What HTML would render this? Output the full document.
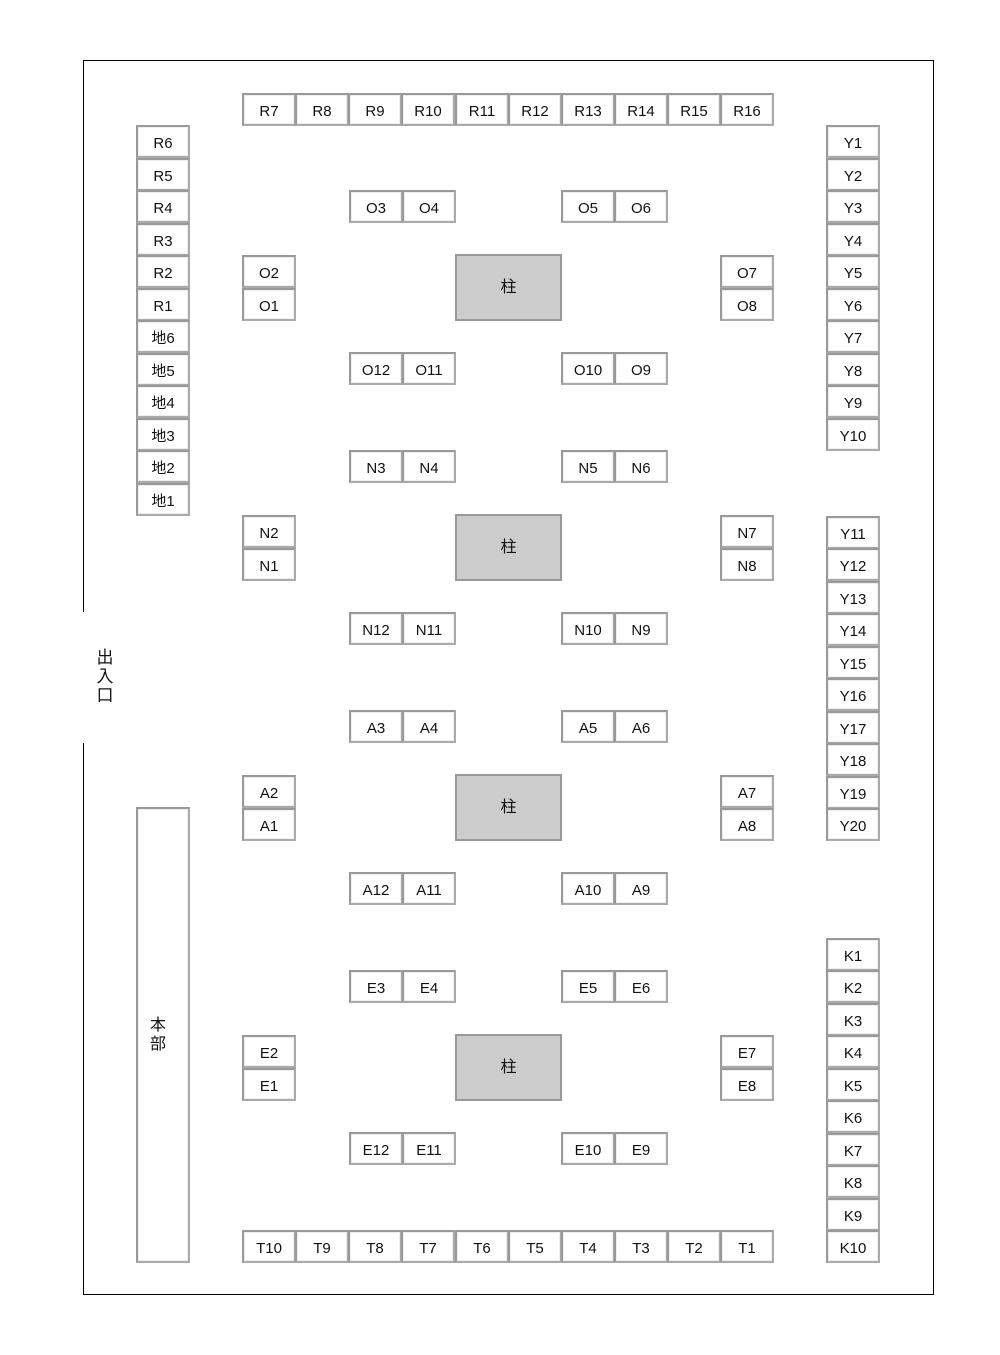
<!DOCTYPE html>
<html><head><meta charset="utf-8"><style>
body{margin:0;background:#fff;width:1000px;height:1355px;position:relative;overflow:hidden;font-family:"Liberation Sans","Noto Sans CJK JP",sans-serif;color:#111}
.f{position:absolute;left:83px;top:60px;width:851px;height:1235px;border:1px solid #000;box-sizing:border-box}
.gap{position:absolute;left:82px;top:612px;width:4px;height:131px;background:#fff}
.c{position:absolute;width:54px;height:33px;border:2px solid #aaa;border-top-color:#999;border-left-color:#999;box-shadow:inset 0 0 0 1px #eee;box-sizing:border-box;text-align:center;line-height:33px;font-size:15px;background:#fff}
.p{position:absolute;left:455px;width:107px;height:67px;background:#ccc;border:2px solid #999;box-sizing:border-box;text-align:center;line-height:63px;font-size:16px}
.v{position:absolute;font-size:17px;line-height:19px;width:20px;text-align:center}
</style></head><body>
<div class="f"></div><div class="gap"></div>
<div class="v" style="left:95px;top:648px">出<br>入<br>口</div>
<div class="c" style="left:136px;top:807px;height:456px"></div>
<div class="v" style="left:148px;top:1016px;font-size:16px">本<br>部</div>

<div class="c" style="left:242px;top:93px">R7</div><div class="c" style="left:295px;top:93px">R8</div><div class="c" style="left:348px;top:93px">R9</div><div class="c" style="left:401px;top:93px">R10</div><div class="c" style="left:455px;top:93px">R11</div><div class="c" style="left:508px;top:93px">R12</div><div class="c" style="left:561px;top:93px">R13</div><div class="c" style="left:614px;top:93px">R14</div><div class="c" style="left:667px;top:93px">R15</div><div class="c" style="left:720px;top:93px">R16</div>

<div class="c" style="left:242px;top:1230px">T10</div><div class="c" style="left:295px;top:1230px">T9</div><div class="c" style="left:348px;top:1230px">T8</div><div class="c" style="left:401px;top:1230px">T7</div><div class="c" style="left:455px;top:1230px">T6</div><div class="c" style="left:508px;top:1230px">T5</div><div class="c" style="left:561px;top:1230px">T4</div><div class="c" style="left:614px;top:1230px">T3</div><div class="c" style="left:667px;top:1230px">T2</div><div class="c" style="left:720px;top:1230px">T1</div>

<div class="c" style="left:136px;top:125px">R6</div><div class="c" style="left:136px;top:158px">R5</div><div class="c" style="left:136px;top:190px">R4</div><div class="c" style="left:136px;top:223px">R3</div><div class="c" style="left:136px;top:255px">R2</div><div class="c" style="left:136px;top:288px">R1</div><div class="c" style="left:136px;top:320px">地6</div><div class="c" style="left:136px;top:353px">地5</div><div class="c" style="left:136px;top:385px">地4</div><div class="c" style="left:136px;top:418px">地3</div><div class="c" style="left:136px;top:450px">地2</div><div class="c" style="left:136px;top:483px">地1</div>

<div class="c" style="left:826px;top:125px">Y1</div><div class="c" style="left:826px;top:158px">Y2</div><div class="c" style="left:826px;top:190px">Y3</div><div class="c" style="left:826px;top:223px">Y4</div><div class="c" style="left:826px;top:255px">Y5</div><div class="c" style="left:826px;top:288px">Y6</div><div class="c" style="left:826px;top:320px">Y7</div><div class="c" style="left:826px;top:353px">Y8</div><div class="c" style="left:826px;top:385px">Y9</div><div class="c" style="left:826px;top:418px">Y10</div>
<div class="c" style="left:826px;top:516px">Y11</div><div class="c" style="left:826px;top:548px">Y12</div><div class="c" style="left:826px;top:581px">Y13</div><div class="c" style="left:826px;top:613px">Y14</div><div class="c" style="left:826px;top:646px">Y15</div><div class="c" style="left:826px;top:678px">Y16</div><div class="c" style="left:826px;top:711px">Y17</div><div class="c" style="left:826px;top:743px">Y18</div><div class="c" style="left:826px;top:776px">Y19</div><div class="c" style="left:826px;top:808px">Y20</div>
<div class="c" style="left:826px;top:938px">K1</div><div class="c" style="left:826px;top:970px">K2</div><div class="c" style="left:826px;top:1003px">K3</div><div class="c" style="left:826px;top:1035px">K4</div><div class="c" style="left:826px;top:1068px">K5</div><div class="c" style="left:826px;top:1100px">K6</div><div class="c" style="left:826px;top:1133px">K7</div><div class="c" style="left:826px;top:1165px">K8</div><div class="c" style="left:826px;top:1198px">K9</div><div class="c" style="left:826px;top:1230px">K10</div>

<div class="c" style="left:349px;top:190px">O3</div><div class="c" style="left:402px;top:190px">O4</div><div class="c" style="left:561px;top:190px">O5</div><div class="c" style="left:614px;top:190px">O6</div>
<div class="c" style="left:242px;top:255px">O2</div><div class="c" style="left:242px;top:288px">O1</div><div class="p" style="top:254px">柱</div><div class="c" style="left:720px;top:255px">O7</div><div class="c" style="left:720px;top:288px">O8</div>
<div class="c" style="left:349px;top:352px">O12</div><div class="c" style="left:402px;top:352px">O11</div><div class="c" style="left:561px;top:352px">O10</div><div class="c" style="left:614px;top:352px">O9</div>

<div class="c" style="left:349px;top:450px">N3</div><div class="c" style="left:402px;top:450px">N4</div><div class="c" style="left:561px;top:450px">N5</div><div class="c" style="left:614px;top:450px">N6</div>
<div class="c" style="left:242px;top:515px">N2</div><div class="c" style="left:242px;top:548px">N1</div><div class="p" style="top:514px">柱</div><div class="c" style="left:720px;top:515px">N7</div><div class="c" style="left:720px;top:548px">N8</div>
<div class="c" style="left:349px;top:612px">N12</div><div class="c" style="left:402px;top:612px">N11</div><div class="c" style="left:561px;top:612px">N10</div><div class="c" style="left:614px;top:612px">N9</div>

<div class="c" style="left:349px;top:710px">A3</div><div class="c" style="left:402px;top:710px">A4</div><div class="c" style="left:561px;top:710px">A5</div><div class="c" style="left:614px;top:710px">A6</div>
<div class="c" style="left:242px;top:775px">A2</div><div class="c" style="left:242px;top:808px">A1</div><div class="p" style="top:774px">柱</div><div class="c" style="left:720px;top:775px">A7</div><div class="c" style="left:720px;top:808px">A8</div>
<div class="c" style="left:349px;top:872px">A12</div><div class="c" style="left:402px;top:872px">A11</div><div class="c" style="left:561px;top:872px">A10</div><div class="c" style="left:614px;top:872px">A9</div>

<div class="c" style="left:349px;top:970px">E3</div><div class="c" style="left:402px;top:970px">E4</div><div class="c" style="left:561px;top:970px">E5</div><div class="c" style="left:614px;top:970px">E6</div>
<div class="c" style="left:242px;top:1035px">E2</div><div class="c" style="left:242px;top:1068px">E1</div><div class="p" style="top:1034px">柱</div><div class="c" style="left:720px;top:1035px">E7</div><div class="c" style="left:720px;top:1068px">E8</div>
<div class="c" style="left:349px;top:1132px">E12</div><div class="c" style="left:402px;top:1132px">E11</div><div class="c" style="left:561px;top:1132px">E10</div><div class="c" style="left:614px;top:1132px">E9</div>
</body></html>
